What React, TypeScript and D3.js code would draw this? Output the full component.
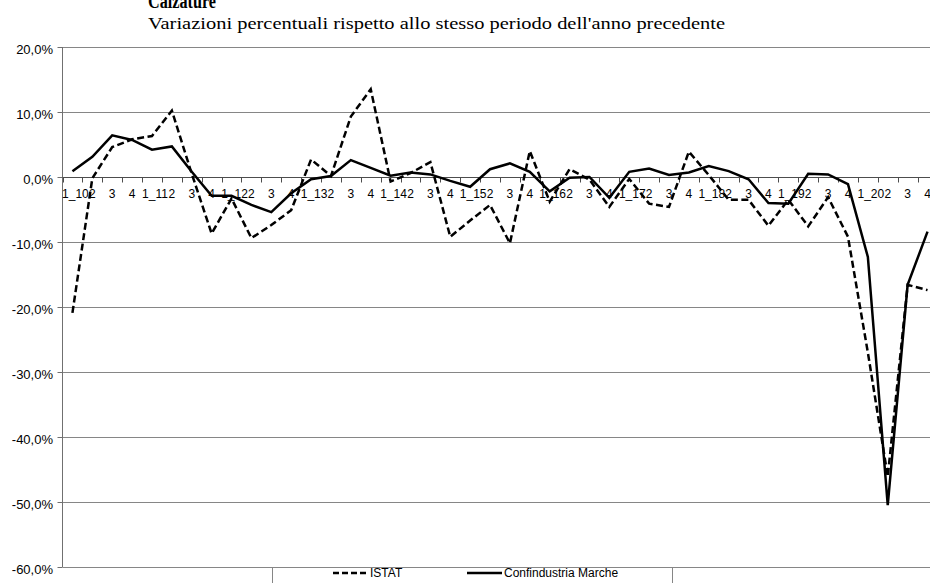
import React from "react";
import * as d3 from "d3";

const categories: string[] = [
  "1_10", "2", "3", "4",
  "1_11", "2", "3", "4",
  "1_12", "2", "3", "4",
  "1_13", "2", "3", "4",
  "1_14", "2", "3", "4",
  "1_15", "2", "3", "4",
  "1_16", "2", "3", "4",
  "1_17", "2", "3", "4",
  "1_18", "2", "3", "4",
  "1_19", "2", "3", "4",
  "1_20", "2", "3", "4",
];

const istat: number[] = [
  -20.9, -0.2, 4.6, 5.8, 6.3, 10.2, 0.5, -8.7, -3.3, -9.4, -7.4, -5.1,
  2.7, 0.15, 9.3, 13.5, -0.7, 0.6, 2.3, -9.2, -6.7, -4.3, -10.2, 4.0,
  -3.8, 1.2, -0.4, -4.6, -0.3, -4.1, -4.6, 3.9, 0.3, -3.5, -3.5, -7.5,
  -3.5, -7.6, -3.1, -9.2, -27.0, -46.1, -16.6, -17.4,
];

const confindustria: number[] = [
  0.9, 3.1, 6.4, 5.7, 4.2, 4.7, 0.8, -2.9, -2.9, -4.3, -5.4, -2.5,
  -0.35, 0.15, 2.6, 1.4, 0.2, 0.7, 0.4, -0.6, -1.5, 1.2, 2.1, 0.8,
  -2.2, -0.1, 0.0, -3.2, 0.8, 1.3, 0.3, 0.7, 1.7, 0.9, -0.35, -4.0,
  -4.1, 0.5, 0.4, -1.1, -12.3, -50.5, -16.6, -8.4,
];

const yTicks: number[] = [20, 10, 0, -10, -20, -30, -40, -50, -60];
const seriesNames: string[] = ["ISTAT", "Confindustria Marche"];
const title = "Calzature";
const subtitle = "Variazioni percentuali rispetto allo stesso periodo dell'anno precedente";

const W = 930;
const H = 583;
const plotLeft = 62.5;
const plotRight = 62.3 + 44 * 19.89;
const plotTop = 47;
const plotBottom = 567;

const fmt = (v: number) => v.toFixed(1).replace(".", ",") + "%";

export default function App() {
  const idx = categories.map((_, i) => i);
  const x = d3.scaleBand<number>().domain(idx).range([plotLeft, plotRight]).padding(0);
  const y = d3.scaleLinear().domain([-60, 20]).range([plotBottom, plotTop]);
  const cx = (i: number) => (x(i) as number) + x.bandwidth() / 2;

  const line = d3
    .line<number>()
    .x((_, i) => cx(i))
    .y((d) => y(d));

  const font = "'Liberation Sans', Arial, sans-serif";
  const serif = "'Liberation Serif', 'Times New Roman', serif";
  const y0 = Math.round(y(0)) + 0.5;

  return (
    <svg
      width={W}
      height={H}
      style={{ position: "absolute", left: 0, top: 0, background: "#fff" }}
    >
      <rect x={0} y={0} width={W} height={H} fill="#fff" />
      <text
        x={148}
        y={8}
        fontFamily={serif}
        fontWeight="bold"
        fontSize={20}
        textLength={68}
        lengthAdjust="spacingAndGlyphs"
        fill="#000"
      >
        {title}
      </text>
      <text
        x={148}
        y={29}
        fontFamily={serif}
        fontSize={17.5}
        textLength={577}
        lengthAdjust="spacingAndGlyphs"
        fill="#000"
      >
        {subtitle}
      </text>

      {/* gridlines */}
      {yTicks
        .filter((t) => t !== 0)
        .map((t) => (
          <line
            key={"g" + t}
            x1={plotLeft}
            x2={W}
            y1={Math.round(y(t)) + 0.5}
            y2={Math.round(y(t)) + 0.5}
            stroke="#868686"
            strokeWidth={1}
          />
        ))}

      {/* y axis */}
      <line x1={plotLeft} x2={plotLeft} y1={plotTop} y2={plotBottom} stroke="#707070" strokeWidth={1} />
      {yTicks.map((t) => (
        <g key={"yt" + t}>
          <line
            x1={plotLeft - 5}
            x2={plotLeft}
            y1={Math.round(y(t)) + 0.5}
            y2={Math.round(y(t)) + 0.5}
            stroke="#707070"
          />
          <text
            x={53}
            y={y(t) + 6.5}
            textAnchor="end"
            fontFamily={font}
            fontSize={13}
            fill="#000"
          >
            {fmt(t)}
          </text>
        </g>
      ))}

      {/* x axis at 0 */}
      <line x1={plotLeft} x2={W} y1={y0} y2={y0} stroke="#4d4d4d" strokeWidth={1} />
      {idx.map((i) => (
        <line
          key={"xt" + i}
          x1={Math.round(x(i) as number) + 0.5}
          x2={Math.round(x(i) as number) + 0.5}
          y1={y0}
          y2={y0 + 5}
          stroke="#4d4d4d"
        />
      ))}
      {idx.map((i) => (
        <text
          key={"xl" + i}
          x={cx(i) + (categories[i].length > 1 ? 3 : 0)}
          y={198}
          textAnchor="middle"
          fontFamily={font}
          fontSize={12}
          fill="#000"
        >
          {categories[i]}
        </text>
      ))}

      {/* series */}
      <path
        d={line(istat) || ""}
        fill="none"
        stroke="#000"
        strokeWidth={2.5}
        strokeDasharray="7,3.5"
      />
      <path d={line(confindustria) || ""} fill="none" stroke="#000" strokeWidth={2.5} />

      {/* legend */}
      <rect x={272.5} y={567.5} width={400} height={30} fill="#fff" stroke="#868686" />
      <line x1={333} x2={368} y1={573} y2={573} stroke="#000" strokeWidth={2.5} strokeDasharray="6,3" />
      <text x={370} y={577} fontFamily={font} fontSize={12} fill="#000">
        {seriesNames[0]}
      </text>
      <line x1={467} x2={502} y1={573} y2={573} stroke="#000" strokeWidth={2.5} />
      <text x={504} y={577} fontFamily={font} fontSize={12} fill="#000">
        {seriesNames[1]}
      </text>
    </svg>
  );
}
